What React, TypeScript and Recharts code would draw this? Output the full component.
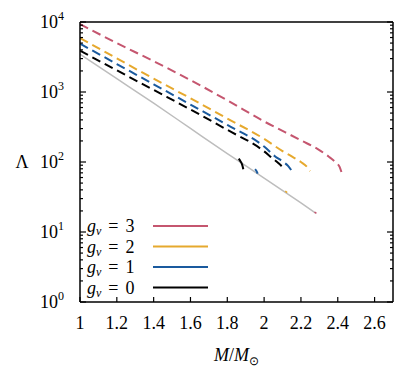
import React from 'react';
import { LineChart, Line, XAxis, YAxis, Legend } from 'recharts';

const SERIF = 'Liberation Serif';

// mass ticks (M / M_sun) and Lambda decades
const MASS_TICKS = [1, 1.2, 1.4, 1.6, 1.8, 2, 2.2, 2.4, 2.6];
const LAMBDA_DECADES = [1, 10, 100, 1000, 10000];

// g_v = 3 (dashed)
const G3_MASS = [1.0, 1.2, 1.4, 1.6, 1.8, 2.0, 2.2, 2.3, 2.35, 2.39, 2.41, 2.42];
const G3_LAMBDA = [9300, 5000, 2750, 1480, 760, 380, 204, 148, 120, 98, 85, 72];

// g_v = 2 (dashed)
const G2_MASS = [1.0, 1.2, 1.4, 1.6, 1.8, 2.0, 2.1, 2.15, 2.2, 2.235, 2.25];
const G2_LAMBDA = [5900, 3020, 1550, 813, 417, 214, 143, 120, 100, 84, 74];

// g_v = 1 (dashed)
const G1_MASS = [1.0, 1.2, 1.4, 1.6, 1.8, 2.0, 2.06, 2.1, 2.13, 2.15];
const G1_LAMBDA = [4900, 2510, 1290, 661, 339, 166, 120, 102, 88, 75];

// g_v = 0 (dashed)
const G0_MASS = [1.0, 1.2, 1.4, 1.6, 1.8, 2.0, 2.04, 2.08, 2.1, 2.11];
const G0_LAMBDA = [3890, 2040, 1070, 562, 288, 142, 116, 95, 84, 77];

// grey solid reference branch
const REF_MASS = [1.0, 1.2, 1.4, 1.6, 1.8, 2.0, 2.2, 2.28];
const REF_LAMBDA = [3470, 1550, 692, 302, 132, 59, 26, 18.6];

// short solid arcs
const G0_ARC_MASS = [1.862, 1.872, 1.881, 1.887];
const G0_ARC_LAMBDA = [112, 102, 91, 79];
const G1_ARC_MASS = [1.951, 1.959, 1.965];
const G1_ARC_LAMBDA = [79, 74, 68];

// tiny solid pieces on the grey branch
const G2_DOT_MASS = [2.115, 2.125];
const G2_DOT_LAMBDA = [38.5, 36.5];
const G3_DOT_MASS = [2.274, 2.284];
const G3_DOT_LAMBDA = [19.3, 18.4];

const RED = '#c5566f';
const ORANGE = '#e6a92e';
const BLUE = '#1a5a9e';
const BLACK = '#000000';
const GREY = '#bdbdbd';

const LEGEND_ITEMS = [
  { label: '3', color: RED },
  { label: '2', color: ORANGE },
  { label: '1', color: BLUE },
  { label: '0', color: BLACK },
];

const toPoints = (mass: number[], lambda: number[]) =>
  mass.map((m, i) => ({ mass: m, lambda: lambda[i] }));

const SERIES = [
  { key: 'ref', data: toPoints(REF_MASS, REF_LAMBDA), color: GREY, dashed: false, width: 1.5 },
  { key: 'g3', data: toPoints(G3_MASS, G3_LAMBDA), color: RED, dashed: true, width: 2 },
  { key: 'g2', data: toPoints(G2_MASS, G2_LAMBDA), color: ORANGE, dashed: true, width: 2 },
  { key: 'g1', data: toPoints(G1_MASS, G1_LAMBDA), color: BLUE, dashed: true, width: 2 },
  { key: 'g0', data: toPoints(G0_MASS, G0_LAMBDA), color: BLACK, dashed: true, width: 2 },
  { key: 'g0arc', data: toPoints(G0_ARC_MASS, G0_ARC_LAMBDA), color: BLACK, dashed: false, width: 2 },
  { key: 'g1arc', data: toPoints(G1_ARC_MASS, G1_ARC_LAMBDA), color: BLUE, dashed: false, width: 2 },
  { key: 'g2dot', data: toPoints(G2_DOT_MASS, G2_DOT_LAMBDA), color: ORANGE, dashed: false, width: 1.5 },
  { key: 'g3dot', data: toPoints(G3_DOT_MASS, G3_DOT_LAMBDA), color: RED, dashed: false, width: 1.5 },
];

// minor log ticks 2..9 in every decade
const LAMBDA_TICKS: number[] = [];
LAMBDA_DECADES.forEach((d, i) => {
  LAMBDA_TICKS.push(d);
  if (i < LAMBDA_DECADES.length - 1) for (let k = 2; k <= 9; k++) LAMBDA_TICKS.push(d * k);
});

const isDecade = (v: number) => LAMBDA_DECADES.includes(v);

const BottomTick = (props: any) => {
  const { x, y, payload } = props;
  return (
    <g>
      <line x1={x} x2={x} y1={y} y2={y - 5} stroke="#000" strokeWidth={1.2} />
      <text x={x} y={y + 27} textAnchor="middle" fontSize={18} fontFamily={SERIF} fill="#000">
        {payload.value}
      </text>
    </g>
  );
};

const TopTick = (props: any) => {
  const { x, y } = props;
  return <line x1={x} x2={x} y1={y} y2={y + 5} stroke="#000" strokeWidth={1.2} />;
};

const LeftTick = (props: any) => {
  const { x, y, payload } = props;
  const major = isDecade(payload.value);
  const len = major ? 6 : 3;
  return (
    <g>
      <line x1={x} x2={x + len} y1={y} y2={y} stroke="#000" strokeWidth={1.2} />
      {major && (
        <text x={x - 16} y={y + 6} textAnchor="end" fontSize={18} fontFamily={SERIF} fill="#000">
          <tspan>10</tspan>
          <tspan dy={-8} fontSize={12}>{Math.round(Math.log10(payload.value))}</tspan>
        </text>
      )}
    </g>
  );
};

const RightTick = (props: any) => {
  const { x, y, payload } = props;
  const len = isDecade(payload.value) ? 6 : 3;
  return <line x1={x} x2={x - len} y1={y} y2={y} stroke="#000" strokeWidth={1.2} />;
};

const XLabel = (props: any) => {
  const { viewBox } = props;
  const cx = viewBox.x + viewBox.width / 2;
  return (
    <text x={cx} y={viewBox.y + 59} textAnchor="middle" fontSize={18} fontFamily={SERIF} fill="#000">
      <tspan fontStyle="italic">M</tspan>
      <tspan>/</tspan>
      <tspan fontStyle="italic">M</tspan>
      <tspan dy={4} fontSize={12}>⊙</tspan>
    </text>
  );
};

const YLabel = (props: any) => {
  const { viewBox } = props;
  return (
    <text x={viewBox.x - 18} y={viewBox.y + viewBox.height / 2 + 6} textAnchor="middle" fontSize={18} fontFamily={SERIF} fill="#000">
      Λ
    </text>
  );
};

const LegendBox = () => (
  <svg width={130} height={84} style={{ display: 'block' }}>
    {LEGEND_ITEMS.map((item, i) => {
      const cy = 12 + i * 20.5;
      return (
        <g key={item.label}>
          <text x={5} y={cy + 6} fontSize={18} fontFamily={SERIF} fill="#000">
            <tspan fontStyle="italic">g</tspan>
            <tspan dy={3} fontSize={12} fontStyle="italic">v</tspan>
            <tspan dy={-3} dx={7}>=</tspan>
            <tspan dx={7}>{item.label}</tspan>
          </text>
          <line x1={71} x2={126} y1={cy} y2={cy} stroke={item.color} strokeWidth={2} />
        </g>
      );
    })}
  </svg>
);

export default function App() {
  return (
    <div style={{ position: 'absolute', left: 0, top: 0, background: '#fff' }}>
      <LineChart width={406} height={369} margin={{ top: 12, right: 3, bottom: 0, left: 40 }}>
        <XAxis
          dataKey="mass"
          type="number"
          domain={[1, 2.7]}
          ticks={MASS_TICKS}
          interval={0}
          height={67}
          tickSize={0}
          tickMargin={0}
          tickLine={false}
          tick={<BottomTick />}
          axisLine={{ stroke: '#000', strokeWidth: 1.5 }}
          allowDataOverflow
          label={<XLabel />}
        />
        <XAxis
          xAxisId="top"
          orientation="top"
          type="number"
          domain={[1, 2.7]}
          ticks={MASS_TICKS}
          interval={0}
          height={10}
          tickSize={0}
          tickMargin={0}
          tickLine={false}
          tick={<TopTick />}
          axisLine={{ stroke: '#000', strokeWidth: 1.5 }}
          allowDataOverflow
        />
        <YAxis
          type="number"
          scale="log"
          domain={[1, 10000]}
          ticks={LAMBDA_TICKS}
          interval={0}
          width={40}
          tickSize={0}
          tickMargin={0}
          tickLine={false}
          tick={<LeftTick />}
          axisLine={{ stroke: '#000', strokeWidth: 1.5 }}
          allowDataOverflow
          label={<YLabel />}
        />
        <YAxis
          yAxisId="right"
          orientation="right"
          type="number"
          scale="log"
          domain={[1, 10000]}
          ticks={LAMBDA_TICKS}
          interval={0}
          width={10}
          tickSize={0}
          tickMargin={0}
          tickLine={false}
          tick={<RightTick />}
          axisLine={{ stroke: '#000', strokeWidth: 1.5 }}
          allowDataOverflow
        />
        {SERIES.map((s) => (
          <Line
            key={s.key}
            data={s.data}
            dataKey="lambda"
            type="monotone"
            stroke={s.color}
            strokeWidth={s.width}
            strokeDasharray={s.dashed ? '9 5' : undefined}
            dot={false}
            activeDot={false}
            isAnimationActive={false}
          />
        ))}
        <Legend
          layout="vertical"
          align="center"
          verticalAlign="middle"
          content={<LegendBox />}
          wrapperStyle={{ left: 82, top: 214, width: 130, height: 84 }}
        />
      </LineChart>
    </div>
  );
}
